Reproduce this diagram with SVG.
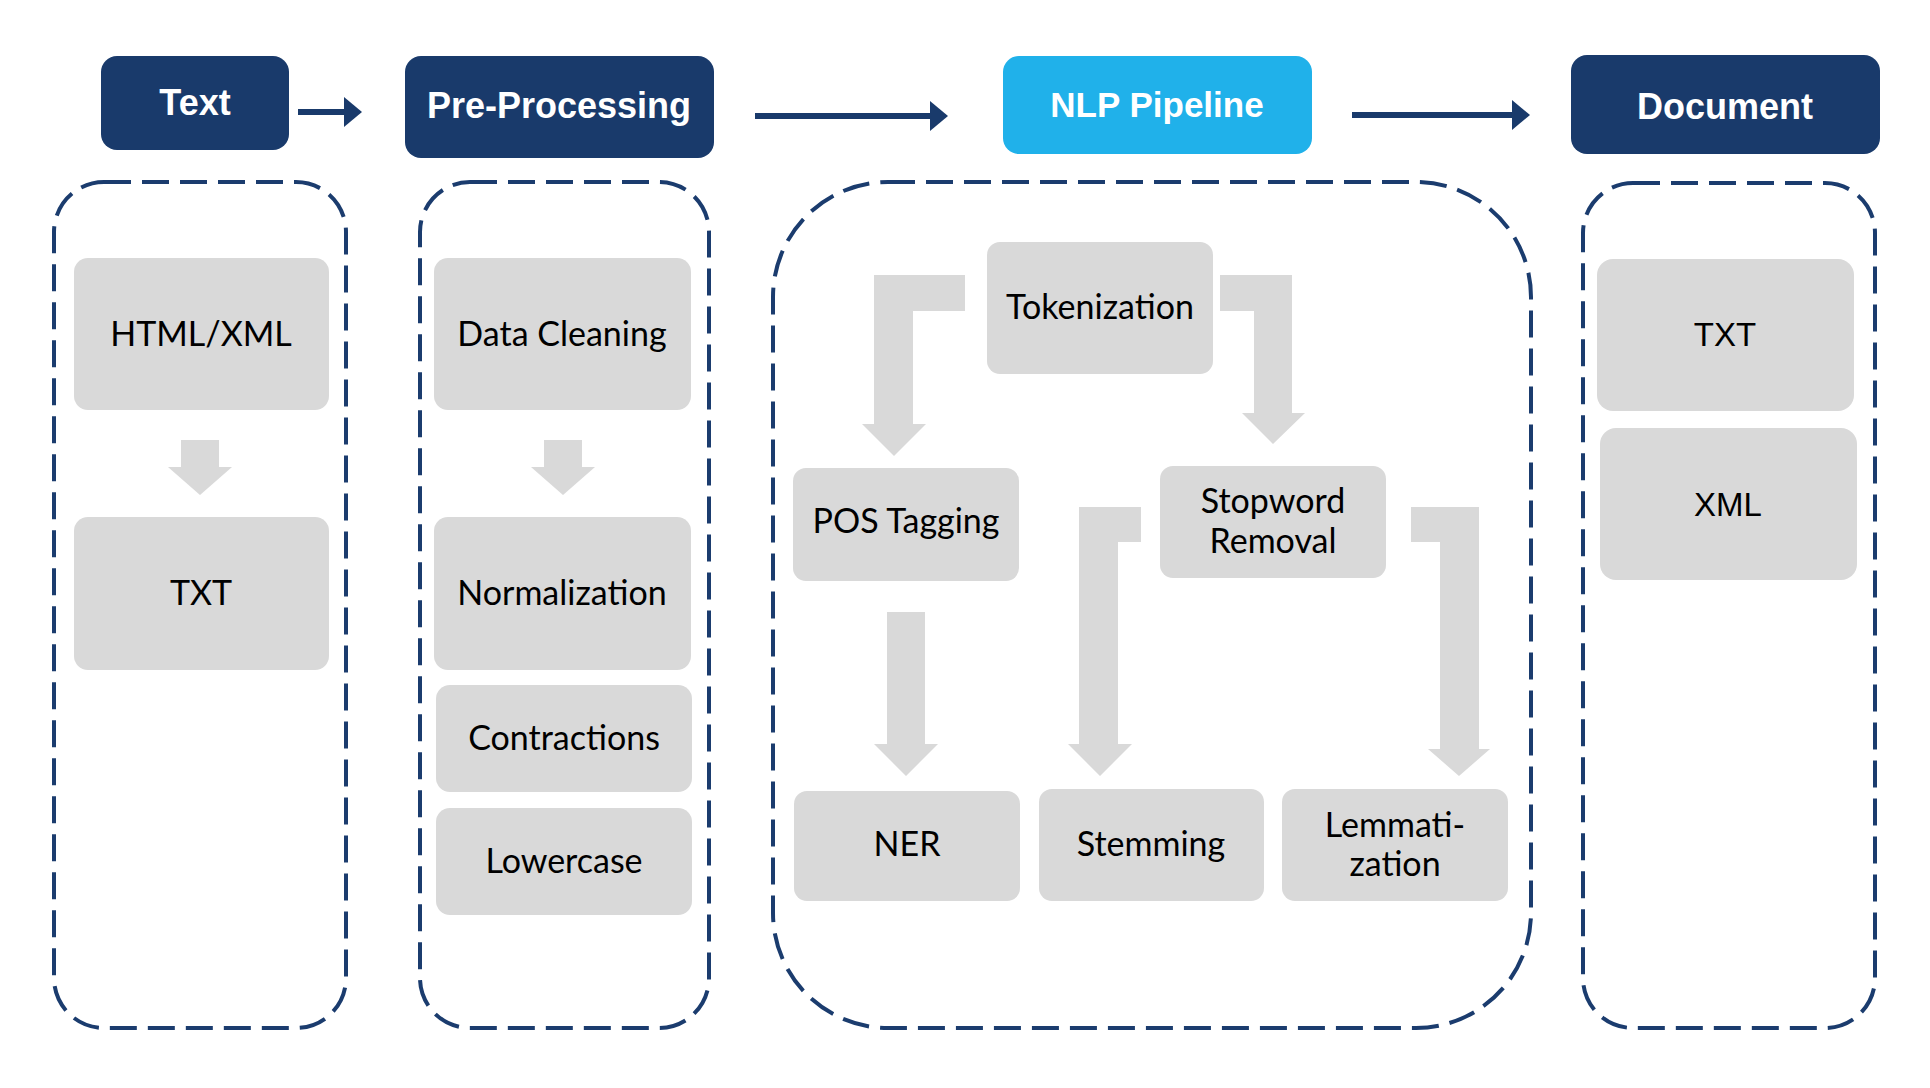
<svg xmlns="http://www.w3.org/2000/svg" width="1930" height="1088" viewBox="0 0 1930 1088">
<style>
.hdr{fill:#193a6b}
.hdr2{fill:#20b1ea}
.htx{font-family:"Liberation Sans",Arial,sans-serif;font-weight:bold;fill:#ffffff;text-anchor:middle}
.box{fill:#d9d9d9}
.lbl{font-family:Lato,"Noto Sans",sans-serif;font-size:34px;fill:#000000;text-anchor:middle}
.lbl2{font-family:"Liberation Sans",Arial,sans-serif;font-size:33px;fill:#000000;text-anchor:middle}
.cont{fill:none;stroke:#1b3c6e;stroke-width:4;stroke-dasharray:27 11}
.conn{stroke:#193a6b;stroke-width:6;fill:none}
.blk{fill:#d9d9d9}
</style>
<defs>
<marker id="ah" markerUnits="userSpaceOnUse" markerWidth="18" markerHeight="30" viewBox="0 0 18 30" refX="0" refY="15" orient="auto">
<path d="M0,0 L18,15 L0,30 Z" fill="#193a6b"/>
</marker>
</defs>
<rect width="1930" height="1088" fill="#ffffff"/>

<g id="containers">
<rect id="c-text" class="cont" x="54" y="182" width="292" height="846" rx="50" ry="50"/>
<rect id="c-pre" class="cont" x="420" y="182" width="289" height="846" rx="50" ry="50"/>
<rect id="c-nlp" class="cont" x="773" y="182" width="758" height="846" rx="115" ry="115"/>
<rect id="c-doc" class="cont" x="1583" y="183" width="292" height="845" rx="50" ry="50"/>
</g>

<g id="connectors">
<line class="conn" x1="298" y1="112" x2="344" y2="112" marker-end="url(#ah)"/>
<line class="conn" x1="755" y1="116" x2="930" y2="116" marker-end="url(#ah)"/>
<line class="conn" x1="1352" y1="115" x2="1512" y2="115" marker-end="url(#ah)"/>
<polygon class="blk" points="181,440 219,440 219,467 232,467 200,495 168,467 181,467"/>
<polygon class="blk" points="544,440 582,440 582,467 595,467 563,495 531,467 544,467"/>
<polygon class="blk" points="965,275 965,311 913,311 913,424 926,424 894,456 862,424 874,424 874,275"/>
<polygon class="blk" points="1220,275 1292,275 1292,413 1305,413 1273,444 1242,413 1254,413 1254,311 1220,311"/>
<polygon class="blk" points="887,612 925,612 925,744 938,744 906,776 874,744 887,744"/>
<polygon class="blk" points="1141,507 1141,542 1118,542 1118,744 1132,744 1100,776 1068,744 1079,744 1079,507"/>
<polygon class="blk" points="1411,507 1479,507 1479,749 1490,749 1459,776 1428,749 1440,749 1440,542 1411,542"/>
</g>

<g id="n-text"><rect class="hdr" x="101" y="56" width="188" height="94" rx="16"/><text class="htx" x="195" y="115" font-size="36">Text</text></g>
<g id="n-pre"><rect class="hdr" x="405" y="56" width="309" height="102" rx="16"/><text class="htx" x="559" y="118" font-size="36">Pre-Processing</text></g>
<g id="n-nlp"><rect class="hdr2" x="1003" y="56" width="309" height="98" rx="16"/><text class="htx" x="1157" y="117" font-size="35">NLP Pipeline</text></g>
<g id="n-doc"><rect class="hdr" x="1571" y="55" width="309" height="99" rx="16"/><text class="htx" x="1725" y="119" font-size="36">Document</text></g>

<g id="n-htmlxml"><rect class="box" x="74" y="258" width="255" height="152" rx="14"/><text class="lbl" x="201" y="346" font-size="33">HTML/XML</text></g>
<g id="n-txt1"><rect class="box" x="74" y="517" width="255" height="153" rx="14"/><text class="lbl" x="201" y="605" font-size="32">TXT</text></g>

<g id="n-clean"><rect class="box" x="434" y="258" width="257" height="152" rx="14"/><text class="lbl" x="562" y="346" font-size="35.5">Data Cleaning</text></g>
<g id="n-norm"><rect class="box" x="434" y="517" width="257" height="153" rx="14"/><text class="lbl" x="562" y="605" font-size="35.5">Normalization</text></g>
<g id="n-contr"><rect class="box" x="436" y="685" width="256" height="107" rx="14"/><text class="lbl" x="564" y="750" font-size="35.5">Contractions</text></g>
<g id="n-lower"><rect class="box" x="436" y="808" width="256" height="107" rx="14"/><text class="lbl" x="564" y="873" font-size="35.5">Lowercase</text></g>

<g id="n-token"><rect class="box" x="987" y="242" width="226" height="132" rx="13"/><text class="lbl" x="1100" y="319" font-size="29.5">Tokenization</text></g>
<g id="n-pos"><rect class="box" x="793" y="468" width="226" height="113" rx="13"/><text class="lbl" x="906" y="533" font-size="32.5">POS Tagging</text></g>
<g id="n-stop"><rect class="box" x="1160" y="466" width="226" height="112" rx="13"/><text class="lbl" x="1273" y="513">Stopword</text><text class="lbl" x="1273" y="553">Removal</text></g>
<g id="n-ner"><rect class="box" x="794" y="791" width="226" height="110" rx="13"/><text class="lbl" x="907" y="856" font-size="32">NER</text></g>
<g id="n-stem"><rect class="box" x="1039" y="789" width="225" height="112" rx="13"/><text class="lbl" x="1151" y="856">Stemming</text></g>
<g id="n-lemma"><rect class="box" x="1282" y="789" width="226" height="112" rx="13"/><text class="lbl" x="1395" y="837">Lemmati-</text><text class="lbl" x="1395" y="876">zation</text></g>

<g id="n-txt2"><rect class="box" x="1597" y="259" width="257" height="152" rx="16"/><text class="lbl2" x="1725" y="346">TXT</text></g>
<g id="n-xml"><rect class="box" x="1600" y="428" width="257" height="152" rx="16"/><text class="lbl2" x="1728" y="516">XML</text></g>
</svg>
